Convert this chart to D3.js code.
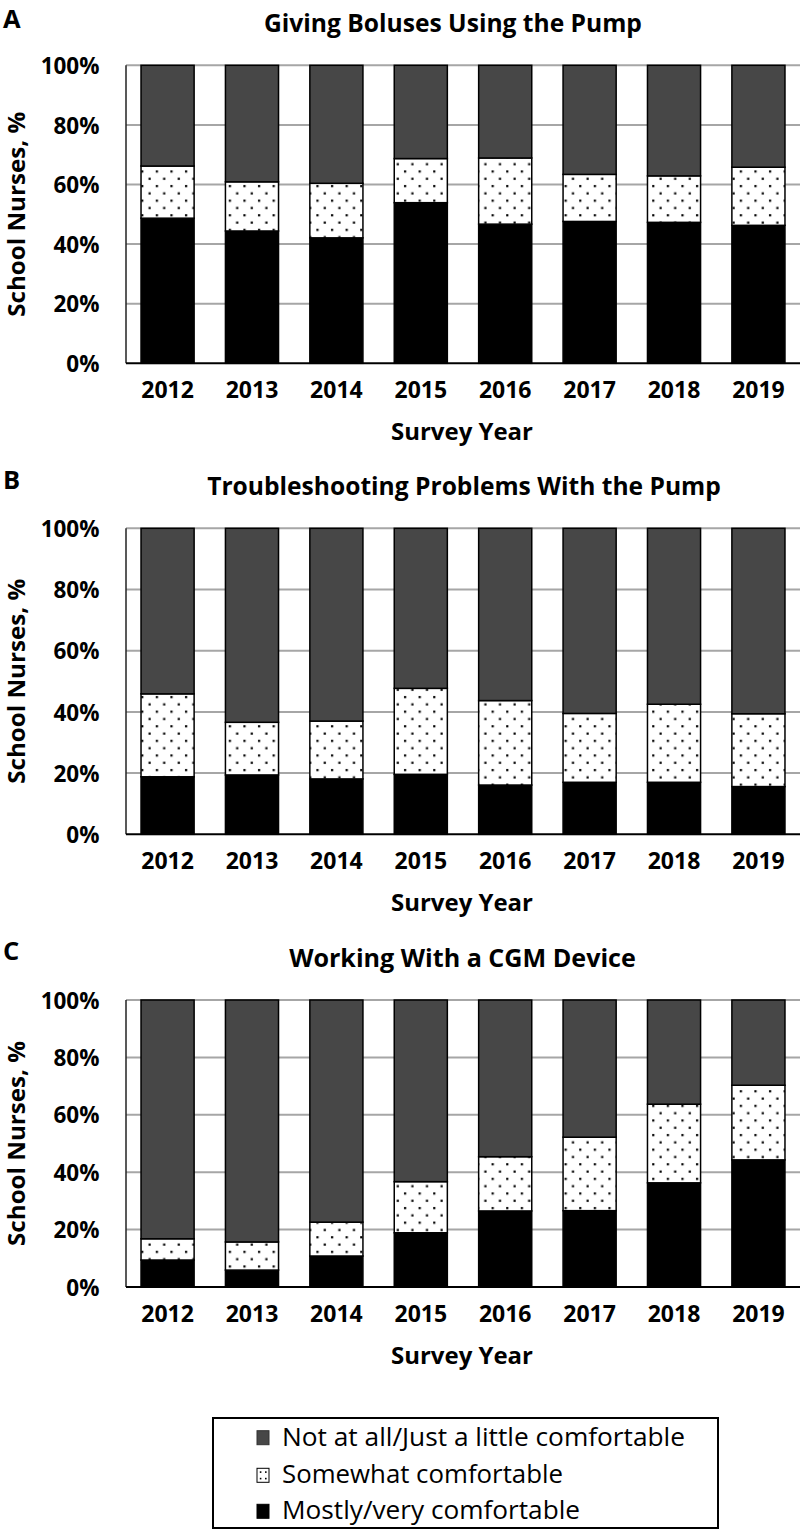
<!DOCTYPE html>
<html>
<head>
<meta charset="utf-8">
<script src="https://cdn.jsdelivr.net/npm/d3@7"></script>
<style>
  html, body { margin: 0; padding: 0; background: #fff; }
  svg { display: block; }
  text { font-family: "Open Sans", "DejaVu Sans", sans-serif; fill: #000; }
</style>
</head>
<body>
<svg id="chart" width="800" height="1530"></svg>
<script>
// ---------- data ----------
const years = ["2012", "2013", "2014", "2015", "2016", "2017", "2018", "2019"];
const seriesNames = ["Mostly/very comfortable", "Somewhat comfortable", "Not at all/Just a little comfortable"];
const yTicks = [0, 20, 40, 60, 80, 100];
const panelLetters = ["A", "B", "C"];
const panelTitles = ["Giving Boluses Using the Pump", "Troubleshooting Problems With the Pump", "Working With a CGM Device"];

// Panel A – Giving boluses using the pump
const mostlyA   = [48.7, 44.4, 42.1, 53.9, 46.7, 47.6, 47.3, 46.3];
const somewhatA = [17.5, 16.5, 18.3, 14.8, 22.2, 15.8, 15.6, 19.5];
const notA      = [33.8, 39.1, 39.6, 31.3, 31.1, 36.6, 37.1, 34.2];
// Panel B – Troubleshooting problems with the pump
const mostlyB   = [18.8, 19.4, 18.1, 19.6, 16.1, 17.0, 17.0, 15.6];
const somewhatB = [27.1, 17.2, 18.9, 28.1, 27.6, 22.5, 25.5, 23.8];
const notB      = [54.1, 63.4, 63.0, 52.3, 56.3, 60.5, 57.5, 60.6];
// Panel C – Working with a CGM device
const mostlyC   = [9.4, 5.9, 10.8, 18.9, 26.5, 26.6, 36.3, 44.3];
const somewhatC = [7.4, 9.8, 11.8, 17.8, 18.9, 25.6, 27.4, 26.0];
const notC      = [83.2, 84.3, 77.4, 63.3, 54.6, 47.8, 36.3, 29.7];

const panelData = [
  [mostlyA, somewhatA, notA],
  [mostlyB, somewhatB, notB],
  [mostlyC, somewhatC, notC]
];

// ---------- layout ----------
const layout = [
  { top: 65.3, bottom: 363.3, titleX: 453, titleY: 31.5, titleW: 378, letterY: 27.5 },
  { top: 528.3, bottom: 834.3, titleX: 464, titleY: 495, titleW: 514, letterY: 489 },
  { top: 1000, bottom: 1287, titleX: 462.5, titleY: 966.7, titleW: 347, letterY: 960 }
];
const plotLeft = 126, plotRight = 800;
const darkGrey = "#474747";

const svg = d3.select("#chart");

// scale font size so the text's natural width matches the target width
function fitSize(sel, w, maxSize) {
  const fs = parseFloat(sel.attr("font-size"));
  const len = sel.node().getComputedTextLength();
  if (len > 0) {
    let nfs = fs * w / len;
    if (maxSize) nfs = Math.min(nfs, maxSize);
    sel.attr("font-size", nfs);
    const len2 = sel.node().getComputedTextLength();
    if (Math.abs(len2 - w) > 2) sel.attr("textLength", w).attr("lengthAdjust", "spacingAndGlyphs");
  }
  return sel;
}

// dotted pattern
const defs = svg.append("defs");
const pat = defs.append("pattern")
  .attr("id", "dots").attr("patternUnits", "userSpaceOnUse")
  .attr("width", 14.6).attr("height", 14.6);
pat.append("rect").attr("width", 14.6).attr("height", 14.6).attr("fill", "#fff");
pat.append("rect").attr("x", 2.5).attr("y", 2.5).attr("width", 2.2).attr("height", 2.2).attr("fill", "#000");
pat.append("rect").attr("x", 9.8).attr("y", 9.8).attr("width", 2.2).attr("height", 2.2).attr("fill", "#000");

const fills = ["#000", "url(#dots)", darkGrey];

const x = d3.scaleBand().domain(years).range([plotLeft, plotRight])
  .paddingInner(0.371).paddingOuter(0.178);

const stack = d3.stack().keys([0, 1, 2]).value((d, k) => d[k]);

layout.forEach((L, pi) => {
  const g = svg.append("g");
  const y = d3.scaleLinear().domain([0, 100]).range([L.bottom, L.top]);

  // panel letter
  g.append("text").attr("x", 3).attr("y", L.letterY)
    .attr("font-size", 25.5).attr("font-weight", 700).text(panelLetters[pi]);

  // title
  const t = g.append("text").attr("x", L.titleX).attr("y", L.titleY)
    .attr("text-anchor", "middle").attr("font-size", 22).attr("font-weight", 700)
    .text(panelTitles[pi]);
  fitSize(t, L.titleW, 26);

  // gridlines
  g.append("g").selectAll("line").data(yTicks.filter(d => d > 0)).join("line")
    .attr("x1", plotLeft).attr("x2", plotRight)
    .attr("y1", d => y(d)).attr("y2", d => y(d))
    .attr("stroke", "#a6a6a6").attr("stroke-width", 2);

  // y axis (labels)
  const yAxis = d3.axisLeft(y).tickValues(yTicks).tickFormat(d => d + "%").tickSize(0).tickPadding(0);
  const ya = g.append("g").attr("transform", `translate(99.5,0)`).call(yAxis);
  ya.select(".domain").remove();
  ya.selectAll("text").attr("font-size", 22.5).attr("font-weight", 700)
    .attr("font-family", "'Open Sans', sans-serif").attr("fill", "#000").attr("dy", "0.36em");

  // bars
  const rows = years.map((yr, i) => ({ year: yr, 0: panelData[pi][0][i], 1: panelData[pi][1][i], 2: panelData[pi][2][i] }));
  const stacked = stack(rows);
  g.append("g").selectAll("g").data(stacked).join("g")
    .attr("fill", (d, i) => fills[i])
    .selectAll("rect").data(d => d).join("rect")
    .attr("x", d => x(d.data.year))
    .attr("width", x.bandwidth())
    .attr("y", d => y(d[1]))
    .attr("height", d => y(d[0]) - y(d[1]))
    .attr("stroke", "#000").attr("stroke-width", 1.5);

  // left axis line
  g.append("line").attr("x1", plotLeft).attr("x2", plotLeft)
    .attr("y1", y(100)).attr("y2", y(0)).attr("stroke", "#222").attr("stroke-width", 1.5);
  // bottom axis
  const xAxis = d3.axisBottom(x).tickSize(0).tickPadding(0);
  const xa = g.append("g").attr("transform", `translate(0,${y(0)})`).call(xAxis);
  xa.select(".domain").attr("stroke", "#000").attr("stroke-width", 2)
    .attr("d", `M${plotLeft},0H${plotRight}`);
  xa.selectAll("text").attr("font-size", 23).attr("font-weight", 700)
    .attr("font-family", "'Open Sans', sans-serif").attr("fill", "#000")
    .attr("dy", null).attr("y", 35);

  // x axis title
  const xt = g.append("text").attr("x", 462).attr("y", y(0) + 77)
    .attr("text-anchor", "middle").attr("font-size", 23).attr("font-weight", 700)
    .text("Survey Year");
  fitSize(xt, 142, 25);

  // y axis title
  const yl = g.append("text")
    .attr("transform", `translate(25,${(L.top + L.bottom) / 2}) rotate(-90)`)
    .attr("text-anchor", "middle").attr("font-size", 21).attr("font-weight", 700)
    .text("School Nurses, %");
  fitSize(yl, 205, 23);
});

// ---------- legend ----------
const leg = svg.append("g");
leg.append("rect").attr("x", 213).attr("y", 1418).attr("width", 505).attr("height", 110)
  .attr("fill", "#fff").attr("stroke", "#000").attr("stroke-width", 2);
const legendOrder = [2, 1, 0];
const legBase = [1445.7, 1483.3, 1519.3];
const legW = [403, 281, 298];
legendOrder.forEach((si, i) => {
  leg.append("rect").attr("x", 257).attr("y", legBase[i] - 15).attr("width", 12).attr("height", 14)
    .attr("fill", si === 1 ? "#fff" : fills[si]).attr("stroke", si === 2 ? "#333" : "#000").attr("stroke-width", 1);
  if (si === 1) {
    [[259.8, legBase[i] - 12], [265, legBase[i] - 12], [259.8, legBase[i] - 5.5], [265, legBase[i] - 5.5]].forEach(p =>
      leg.append("rect").attr("x", p[0]).attr("y", p[1]).attr("width", 1.6).attr("height", 1.6).attr("fill", "#000"));
  }
  const tt = leg.append("text").attr("x", 282).attr("y", legBase[i])
    .attr("font-size", 23).attr("font-weight", 400).text(seriesNames[si]);
  fitSize(tt, legW[i], 25);
});
</script>
</body>
</html>
